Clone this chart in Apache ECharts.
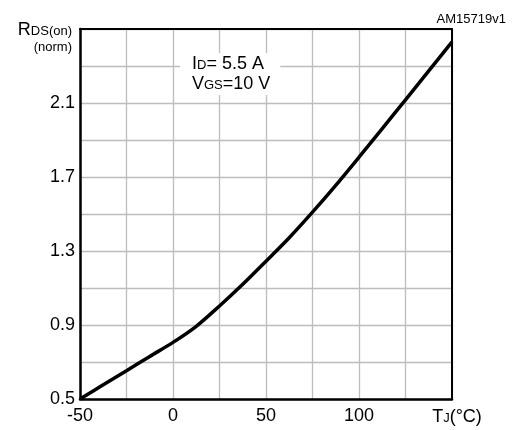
<!DOCTYPE html>
<html>
<head>
<meta charset="utf-8">
<script src="https://cdn.jsdelivr.net/npm/echarts@6/dist/echarts.min.js"></script>
<style>
    html, body { margin: 0; padding: 0; background: #fff; }
    #chart { width: 520px; height: 430px; }
</style>
</head>
<body>
<div id="chart"></div>
<script>
    // junction temperature (°C) and normalized on-resistance
    var tempC = [-50, -37.5, -25, -12.5, 0, 12.5, 25, 37.5, 50, 62.5, 75, 87.5, 100, 112.5, 125, 137.5, 150];
    var rdsNorm = [0.50, 0.577, 0.653, 0.73, 0.806, 0.893, 1.003, 1.12, 1.245, 1.372, 1.51, 1.655, 1.807, 1.962, 2.117, 2.274, 2.43];

    var xTickLabels = ['-50', '0', '50', '100'];
    var yTickLabels = ['0.5', '0.9', '1.3', '1.7', '2.1'];

    var FONT = '"Liberation Sans", Arial, sans-serif';

    var points = tempC.map(function (t, i) { return [t, rdsNorm[i]]; });

    var myChart = echarts.init(document.getElementById('chart'));

    var frameAxis = {
        axisLine: { show: true, onZero: false, lineStyle: { color: '#000', width: 2 } },
        axisTick: { show: false },
        axisLabel: { show: false },
        splitLine: { show: false }
    };

    // small letters that sit on the baseline of the big ones
    var big = { fontFamily: FONT, fontSize: 18, color: '#000', lineHeight: 20 };
    var small = { fontFamily: FONT, fontSize: 13, color: '#000', verticalAlign: 'bottom', padding: [0, 0, 2, 0] };

    var option = {
        animation: false,
        backgroundColor: '#fff',
        title: {
            text: 'AM15719v1',
            right: 9,
            top: 8,
            textStyle: { fontFamily: FONT, fontSize: 13, fontWeight: 'normal', color: '#000' }
        },
        grid: { left: 80, top: 29, right: 68, bottom: 31 },
        xAxis: [{
            type: 'value',
            min: -50,
            max: 150,
            interval: 25,
            axisLine: { show: true, onZero: false, lineStyle: { color: '#000', width: 2.5 } },
            axisTick: { show: false },
            splitLine: { show: true, lineStyle: { color: '#bdbdbd', width: 1.3 } },
            axisLabel: {
                margin: 8,
                color: '#000',
                fontFamily: FONT,
                fontSize: 18,
                formatter: function (v) {
                    if (v === 150) return '{p|}{b|T}{s|J}{b|(°C)}';
                    var s = String(v);
                    return xTickLabels.indexOf(s) >= 0 ? s : '';
                },
                rich: { b: big, s: small, p: { width: 10 } }
            }
        }, Object.assign({ type: 'value', position: 'top', min: -50, max: 150 }, frameAxis)],
        yAxis: [{
            type: 'value',
            min: 0.5,
            max: 2.5,
            interval: 0.2,
            axisLine: { show: true, onZero: false, lineStyle: { color: '#000', width: 2.5 } },
            axisTick: { show: false },
            splitLine: { show: true, lineStyle: { color: '#bdbdbd', width: 1.3 } },
            axisLabel: {
                margin: 5,
                color: '#000',
                fontFamily: FONT,
                fontSize: 18,
                formatter: function (v) {
                    var s = v.toFixed(1);
                    return yTickLabels.indexOf(s) >= 0 ? s : '';
                }
            },
            name: '{b|R}{s|DS(on)}\n{n|(norm)}',
            nameLocation: 'end',
            nameGap: -8,
            nameTextStyle: {
                align: 'right',
                verticalAlign: 'middle',
                padding: [0, 8, 0, 0],
                rich: {
                    b: big,
                    s: small,
                    n: { fontFamily: FONT, fontSize: 13, color: '#000', lineHeight: 14, align: 'right' }
                }
            }
        }, Object.assign({ type: 'value', position: 'right', min: 0.5, max: 2.5 }, frameAxis)],
        graphic: [{
            type: 'text',
            left: 180,
            top: 53,
            z: 10,
            style: {
                text: '{b|I}{s|D}{b|= 5.5 A}\n{b|V}{s|GS}{b|=10 V}',
                backgroundColor: '#fff',
                padding: [1, 10, 1, 12],
                rich: {
                    b: { fontFamily: FONT, fontSize: 18, fill: '#000', lineHeight: 20 },
                    s: { fontFamily: FONT, fontSize: 13, fill: '#000', verticalAlign: 'bottom', padding: [0, 0, 2, 0] }
                }
            }
        }],
        series: [{
            type: 'line',
            xAxisIndex: 0,
            yAxisIndex: 0,
            data: points,
            smooth: 0.3,
            showSymbol: false,
            lineStyle: { color: '#000', width: 3.5 },
            z: 5
        }]
    };

    myChart.setOption(option);
</script>
</body>
</html>
